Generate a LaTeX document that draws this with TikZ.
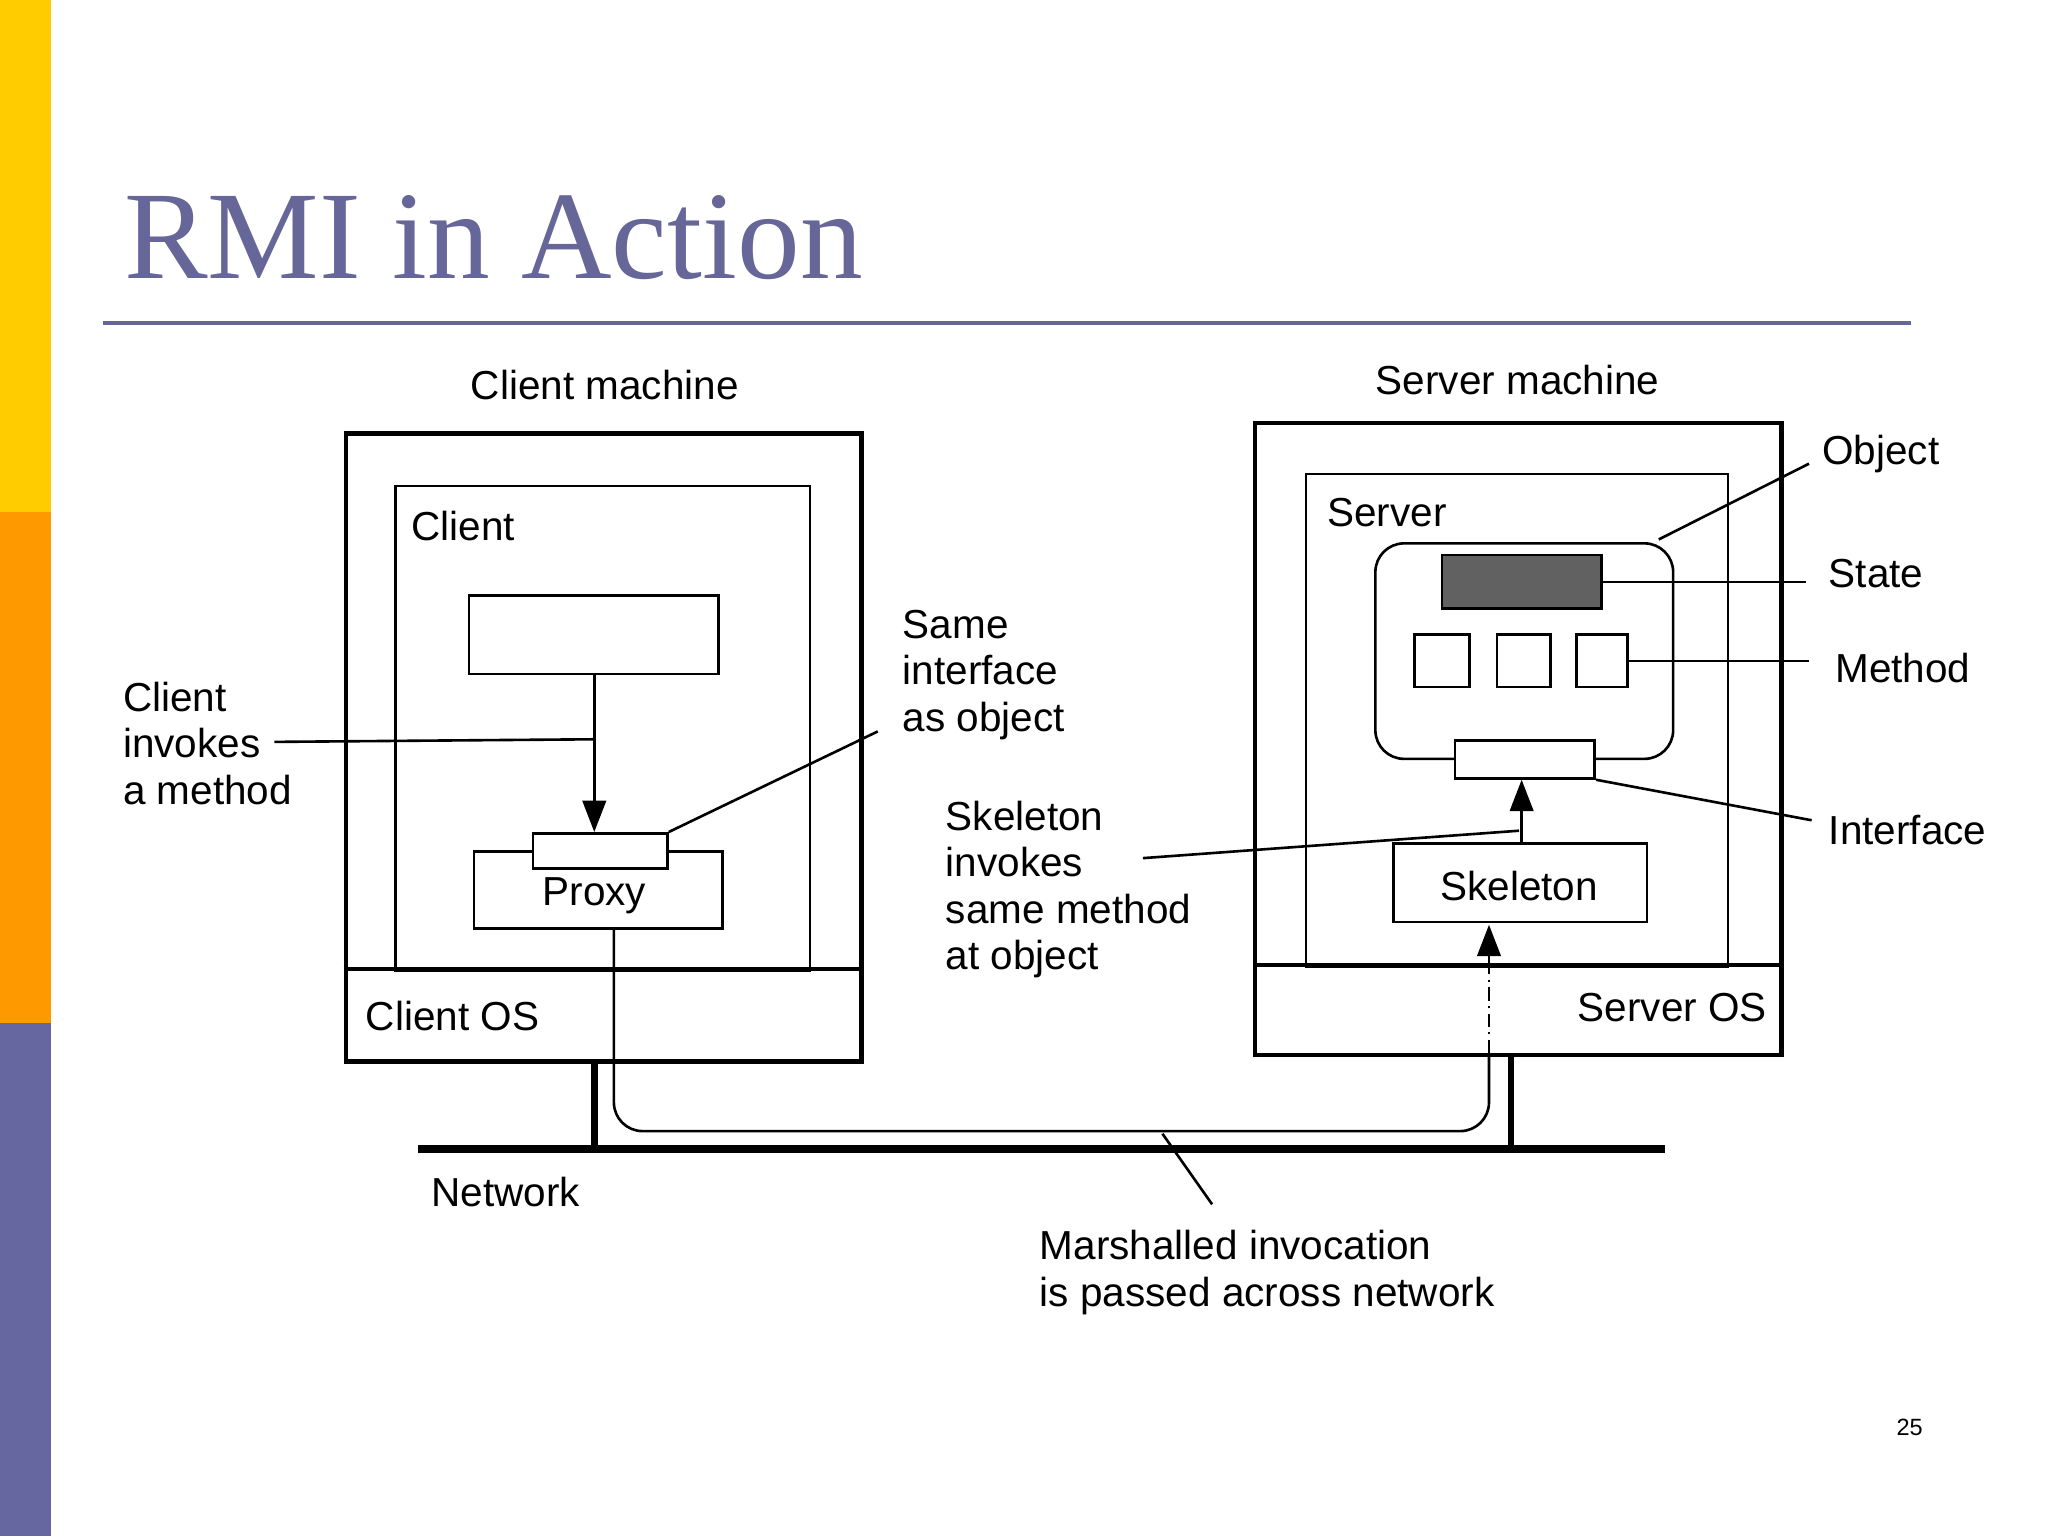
\documentclass[tikz,border=0pt]{standalone}
\usepackage{fontspec}
\setmainfont{Liberation Sans}
\newfontfamily\titlefont{Liberation Serif}
\usetikzlibrary{arrows.meta}
\definecolor{ttl}{RGB}{102,102,153}
\definecolor{barY}{RGB}{255,204,0}
\definecolor{barO}{RGB}{255,153,0}
\definecolor{barP}{RGB}{102,102,160}
\begin{document}
\begin{tikzpicture}[x=1pt,y=-1pt,
  lbl/.style={font=\fontsize{31}{35.5}\selectfont, inner sep=0pt, align=left},
  outerbox/.style={draw, line width=3.5pt, inner sep=0pt, anchor=north west},
  innerbox/.style={draw, line width=2pt, inner sep=0pt, anchor=north west},
  smallbox/.style={draw, line width=2pt, fill=white, inner sep=0pt, anchor=north west},
  thin/.style={line width=2pt},
  arr/.style={line width=2pt, -{Triangle[length=24pt, width=18pt]}},
  net/.style={line width=6pt},
  drop/.style={line width=5pt}]
\useasboundingbox (0,0) rectangle (1568,1176);
% side bars
\fill[barY] (0,0) rectangle (39,392);
\fill[barO] (0,392) rectangle (39,783);
\fill[barP] (0,783) rectangle (39,1176);
% title
\node[anchor=base west, inner sep=0pt, text=ttl, font=\titlefont\fontsize{96}{100}\selectfont] (title) at (95,213) {RMI in Action};
\draw[ttl, line width=3pt] (79,247) coordinate (rl) -- (1463,247) coordinate (rr);
\node[font=\fontsize{18}{20}\selectfont, inner sep=0pt] (pg) at (1462,1093) {25};

% ---------- client machine ----------
\node[outerbox, minimum width=395pt, minimum height=481pt] (cm) at (263,330) {};
\node[innerbox, minimum width=317pt, minimum height=371pt] (cin) at (302,371) {};
\draw[line width=3pt] (263,742) coordinate (cosl) -- (658,742) coordinate (cosr);
\node[lbl, anchor=north] (cmlbl) at (463,283) {Client machine};
\node[lbl, anchor=north west] (clbl) at (315,391) {Client};
\node[lbl, anchor=north west] (coslbl) at (280,766) {Client OS};
\node[smallbox, minimum width=191pt, minimum height=60pt] (cbox) at (358,455) {};
\node[smallbox, minimum width=190pt, minimum height=59pt] (proxy) at (362,651) {};
\node[smallbox, minimum width=103pt, minimum height=27pt] (pint) at (407,637) {};
\node[lbl, anchor=north] (proxylbl) at (455,672) {Proxy};
\coordinate (ctip) at (455,637);
\draw[arr] (455,515) -- (ctip);

% ---------- server machine ----------
\node[outerbox, minimum width=403pt, minimum height=484pt] (sm) at (959,322) {};
\node[innerbox, minimum width=323pt, minimum height=377pt] (sin) at (999,362) {};
\draw[line width=3pt] (959,739) coordinate (sosl) -- (1362,739) coordinate (sosr);
\node[lbl, anchor=north] (smlbl) at (1162,279) {Server machine};
\node[lbl, anchor=north west] (slbl) at (1016,381) {Server};
\node[lbl, anchor=north east] (soslbl) at (1353,760) {Server OS};
\node[draw, line width=2pt, rounded corners=22pt, inner sep=0pt, anchor=north west, minimum width=228pt, minimum height=165pt] (obj) at (1052,415) {};
\node[draw, line width=2pt, fill=black!62, inner sep=0pt, anchor=north west, minimum width=122pt, minimum height=41pt] (state) at (1103,424) {};
\node[draw, line width=2pt, inner sep=0pt, anchor=north west, minimum width=42pt, minimum height=40pt] (m1) at (1082,485) {};
\node[draw, line width=2pt, inner sep=0pt, anchor=north west, minimum width=41pt, minimum height=40pt] (m2) at (1145,485) {};
\node[draw, line width=2pt, inner sep=0pt, anchor=north west, minimum width=39pt, minimum height=40pt] (m3) at (1206,485) {};
\node[smallbox, minimum width=107pt, minimum height=29pt] (sint) at (1113,566) {};
\node[smallbox, minimum width=194pt, minimum height=60pt] (skel) at (1066,645) {};
\node[lbl, anchor=north] (skellbl) at (1163,667) {Skeleton};
\draw[arr] (1165,645) -- (1165,597) coordinate (stip);

% ---------- right labels ----------
\node[lbl, anchor=north west] (objlbl) at (1395,333) {Object};
\node[lbl, anchor=north west] (statelbl) at (1400,428) {State};
\node[lbl, anchor=north west] (methlbl) at (1405,500) {Method};
\node[lbl, anchor=north west] (intlbl) at (1400,624) {Interface};
\draw[thin] (1270,413) coordinate (o1) -- (1385,355) coordinate (o2);
\coordinate (s2) at (1383,444);
\draw[thin] (state.east) -- (state.east -| s2);
\coordinate (mt2) at (1385,505);
\draw[thin] (m3.east) -- (m3.east -| mt2);
\draw[thin] (sint.south east) -- (1387,628) coordinate (i2);

% ---------- left / middle labels ----------
\node[lbl, anchor=north west] (cinvlbl) at (94,522) {Client\\invokes\\a method};
\draw[thin] (210,568) coordinate (ci1) -- (455,566) coordinate (ci2);
\node[lbl, anchor=north west] (samelbl) at (691,467) {Same\\interface\\as object};
\draw[thin] (pint.north east) -- (672,560) coordinate (sa2);
\node[lbl, anchor=north west] (skinvlbl) at (724,613) {Skeleton\\invokes\\same method\\at object};
\draw[thin] (875,657) coordinate (sk1) -- (1163,636) coordinate (sk2);

% ---------- network ----------
\draw[net] (320,880) coordinate (n1) -- (1275,880) coordinate (n2);
\draw[drop] (455,811) -- (455,880);
\draw[drop] (1157,806) -- (1157,880);
\node[lbl, anchor=north west] (netlbl) at (330,901) {Network};
\draw[thin, rounded corners=22pt] (470,710) -- (470,866) -- (1140,866) -- (1140,806) coordinate (sd);
\draw[line width=1.5pt, dash pattern=on 10pt off 4pt on 2pt off 4pt] (sd) -- (1140,736);
\draw[arr] (1140,737) -- (1140,708) coordinate (sktip);
\node[lbl, anchor=north west] (marlbl) at (796,942) {Marshalled invocation\\is passed across network};
\draw[thin] (890,868) coordinate (mp1) -- (928,922) coordinate (mp2);
\end{tikzpicture}
\end{document}
